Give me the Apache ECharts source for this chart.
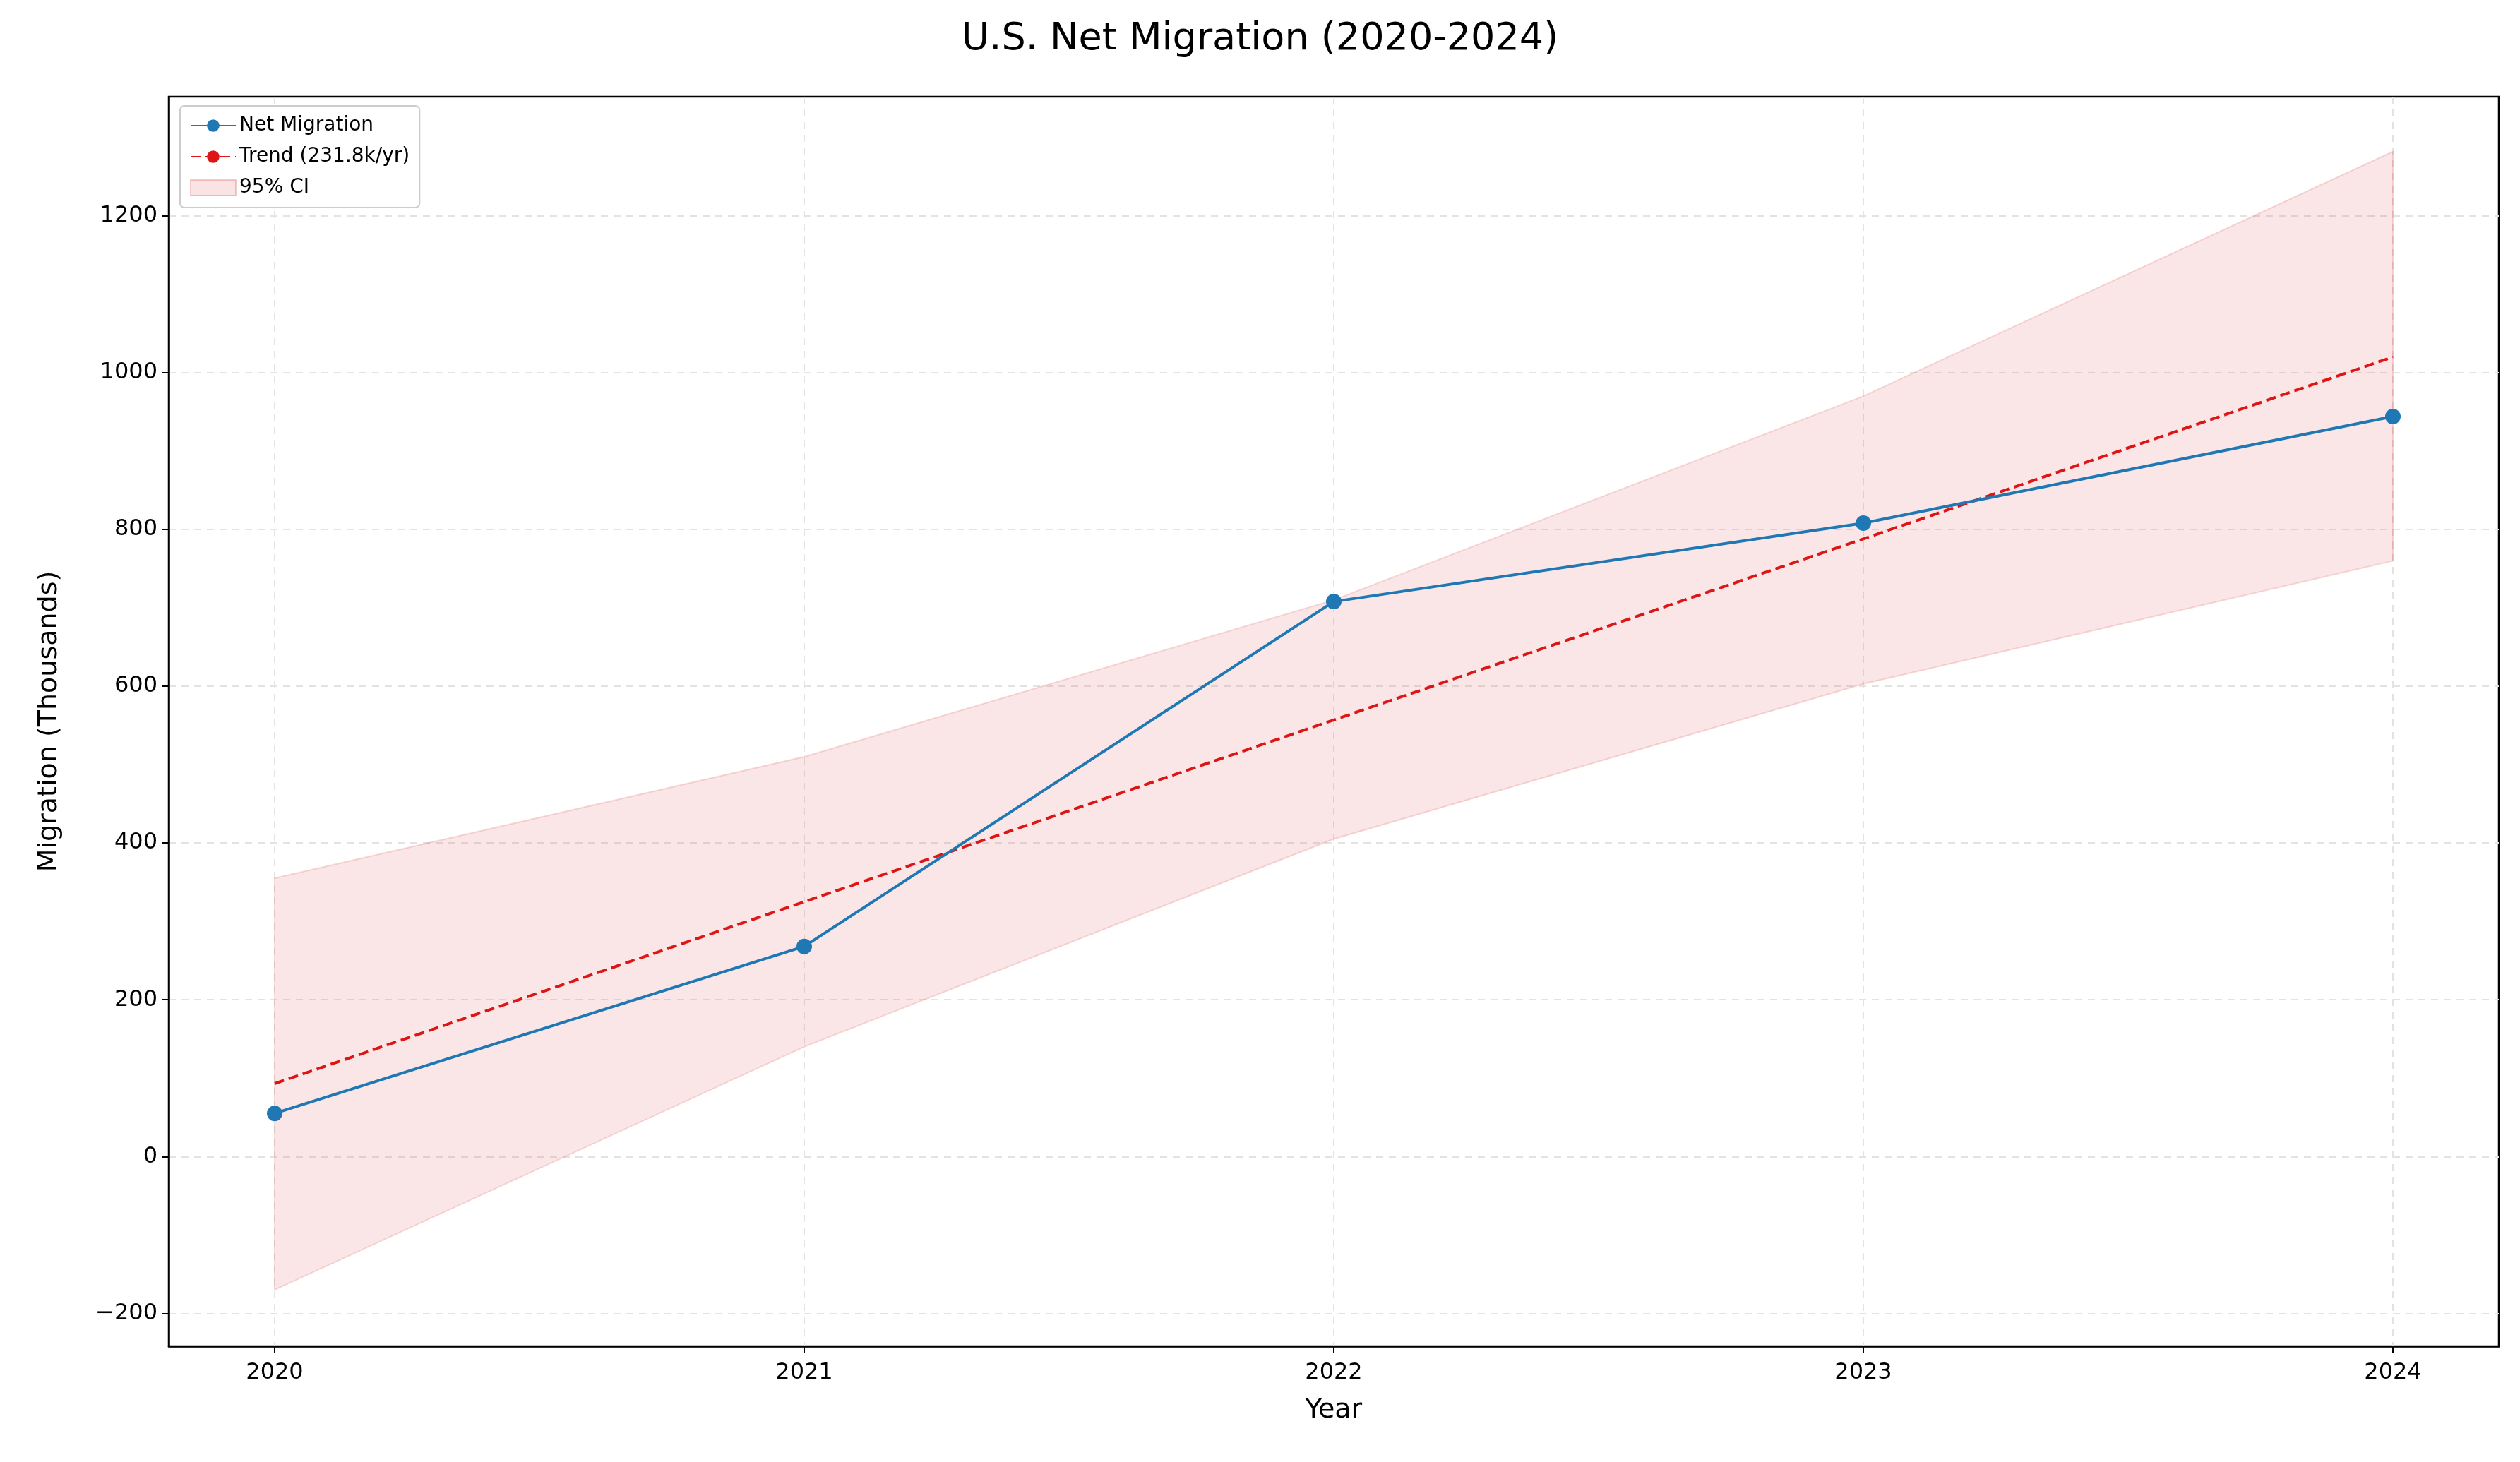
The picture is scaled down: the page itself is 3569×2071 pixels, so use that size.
<!DOCTYPE html>
<html><head><meta charset="utf-8">
<script src="https://cdn.jsdelivr.net/npm/echarts@6/dist/echarts.min.js"></script>
<style>html,body{margin:0;padding:0;background:#fff}#c{width:3569px;height:2071px}</style>
</head><body><div id="c"></div>
<script>
const years = [2020, 2021, 2022, 2023, 2024];
const netMigration = [55, 268, 708, 808, 944];
const trend = [93, 325, 557, 788, 1020];
const ciLower = [-170, 140, 405, 603, 760];
const ciUpper = [355, 510, 710, 970, 1282];
const yTicks = [-200, 0, 200, 400, 600, 800, 1000, 1200];

const pair = a => years.map((y, i) => [y, a[i]]);
const font = 'DejaVu Sans';
const chart = echarts.init(document.getElementById('c'));
chart.setOption({
  animation: false,
  textStyle: {fontFamily: font},
  title: {text: 'U.S. Net Migration (2020-2024)', left: 'center', top: 24,
    textStyle: {fontFamily: font, fontSize: 54, fontWeight: 'normal', color: '#000'}},
  grid: {left: 239, right: 30, top: 137, bottom: 164, show: true, borderColor: '#000', borderWidth: 2.5, containLabel: false},
  legend: {orient: 'vertical', left: 255, top: 150, itemGap: 16, itemWidth: 64, itemHeight: 22,
    backgroundColor: '#fff', borderColor: '#ccc', borderWidth: 2, borderRadius: 6, padding: [14, 14],
    textStyle: {fontFamily: font, fontSize: 28, color: '#000'},
    data: ['Net Migration', 'Trend (231.8k/yr)', {name: '95% CI', icon: 'rect', itemStyle: {color: 'rgba(222,80,80,0.16)', borderColor: 'rgba(222,80,80,0.3)', borderWidth: 2}}]},
  xAxis: {type: 'value', min: 2019.8, max: 2024.2, name: 'Year', nameLocation: 'middle', nameGap: 72,
    nameTextStyle: {fontSize: 38, color: '#000'},
    axisLine: {show: true, onZero: false, lineStyle: {color: '#000', width: 2.5}},
    axisTick: {show: true, customValues: years, length: 9, lineStyle: {color: '#000', width: 2}},
    axisLabel: {customValues: years, fontSize: 32, color: '#000', margin: 22, formatter: v => String(v)},
    splitLine: {show: true, lineStyle: {color: '#e3e3e3', type: [10, 8], width: 2}}},
  yAxis: {type: 'value', min: -242, max: 1352, name: 'Migration (Thousands)', nameLocation: 'middle', nameGap: 150,
    nameTextStyle: {fontSize: 38, color: '#000'},
    axisLine: {show: true, onZero: false, lineStyle: {color: '#000', width: 2.5}},
    axisTick: {show: true, customValues: yTicks, length: 9, lineStyle: {color: '#000', width: 2}},
    axisLabel: {customValues: yTicks, fontSize: 32, color: '#000', margin: 16,
      formatter: v => v < 0 ? '\u2212' + Math.abs(v) : String(v)},
    splitLine: {show: true, lineStyle: {color: '#e3e3e3', type: [10, 8], width: 2}}},
  series: [
    {name: '95% CI', type: 'custom', data: years.map((y, i) => [y, ciLower[i], ciUpper[i]]),
      encode: {x: 0, y: [1, 2]}, z: 1, itemStyle: {color: 'rgba(222,80,80,0.16)'},
      renderItem: (params, api) => {
        if (params.dataIndexInside !== 0) return null;
        const up = years.map((y, i) => api.coord([y, ciUpper[i]]));
        const lo = years.map((y, i) => api.coord([y, ciLower[i]])).reverse();
        return {type: 'polygon', shape: {points: up.concat(lo)},
          style: {fill: 'rgba(222,80,80,0.14)', stroke: 'rgba(222,80,80,0.22)', lineWidth: 2}};
      }},
    {name: 'Trend (231.8k/yr)', type: 'line', data: pair(trend), symbol: 'none', z: 3,
      itemStyle: {color: '#dd1515'}, lineStyle: {color: '#dd1515', width: 4, type: [14, 7]}},
    {name: 'Net Migration', type: 'line', data: pair(netMigration), symbol: 'circle', symbolSize: 22, z: 4,
      itemStyle: {color: '#1f77b4'}, lineStyle: {color: '#1f77b4', width: 4}}
  ]
});
</script></body></html>
